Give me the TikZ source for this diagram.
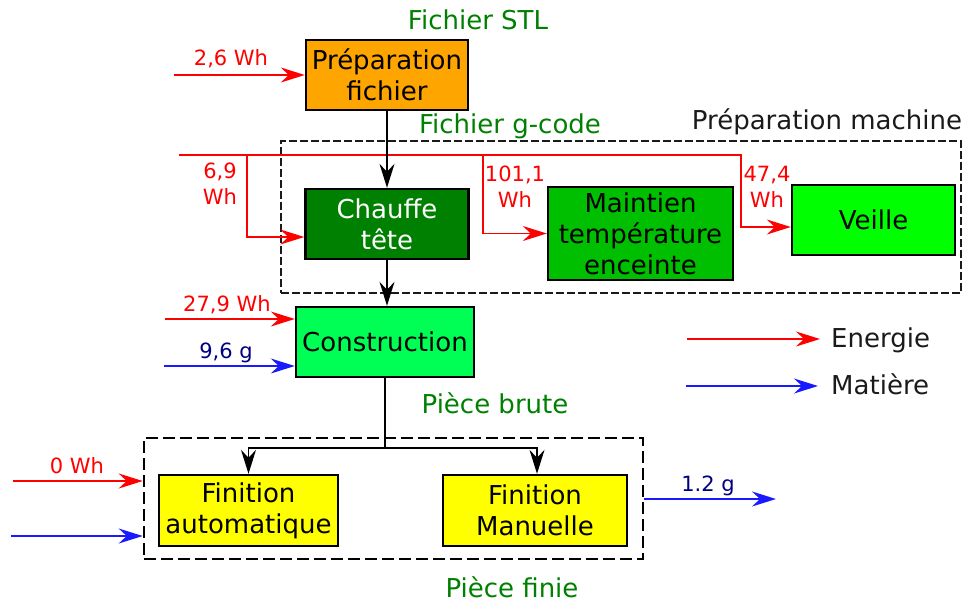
\documentclass[tikz,border=0pt]{standalone}
\usepackage{fontspec}
\setmainfont{DejaVu Sans}
\usetikzlibrary{positioning,arrows.meta,calc}
\usepackage{xcolor}
\definecolor{vertlbl}{HTML}{008000}
\definecolor{grisfonce}{HTML}{1A1A1A}
\definecolor{navy}{HTML}{000080}
\definecolor{orprep}{HTML}{FFA500}
\definecolor{vfonce}{HTML}{008000}
\definecolor{vmoyen}{HTML}{00BE00}
\definecolor{vclair}{HTML}{00FF00}
\definecolor{vconstr}{HTML}{00FF55}
\definecolor{jaune}{HTML}{FFFF00}
\definecolor{bleuflux}{HTML}{1A1AFF}

\begin{document}
\begin{tikzpicture}[
  x=1pt,y=-1pt,
  >={Stealth[length=24pt,width=15pt,inset=8pt]},
  every node/.style={inner sep=0pt},
  bloc/.style={draw,line width=2.4pt,align=center,font=\fontsize{26}{31}\selectfont},
  etat/.style={font=\fontsize{26}{31}\selectfont,text=vertlbl,anchor=base},
  flux/.style={font=\fontsize{21}{26}\selectfont,align=center},
  energie/.style={->,red,line width=1.5pt},
  matiere/.style={->,bleuflux,line width=2pt},
  lien/.style={->,black,line width=1.6pt}
]
\useasboundingbox (0,0) rectangle (965,603);

% zones en pointilles
\node[draw=grisfonce,line width=1.5pt,dash pattern=on 8pt off 3pt,minimum width=680pt,minimum height=152pt] (zprep) at (621,217) {};
\node[draw,line width=2.6pt,dash pattern=on 12pt off 5pt,minimum width=499pt,minimum height=121pt] (zfin) at (393.5,498.5) {};

% blocs
\node[bloc,fill=orprep,minimum width=162pt,minimum height=70pt] (prep) at (387,75) {Préparation\\fichier};
\node[bloc,fill=vfonce,text=white,minimum width=163pt,minimum height=70pt] (chauffe) at (387,224) {Chauffe\\tête};
\node[bloc,fill=vmoyen,minimum width=185pt,minimum height=93pt] (maintien) at (640.5,233.5) {Maintien\\température\\enceinte};
\node[bloc,fill=vclair,minimum width=163pt,minimum height=70pt] (veille) at (873.5,220) {Veille};
\node[bloc,fill=vconstr,minimum width=178pt,minimum height=70pt] (constr) at (385,342) {Construction};
\node[bloc,fill=jaune,minimum width=179pt,minimum height=71pt] (finauto) at (248.5,510.5) {Finition\\automatique};
\node[bloc,fill=jaune,minimum width=184pt,minimum height=71pt] (finman) at (535,510.5) {Finition\\Manuelle};

% etats du produit
\node[etat] (stl) at (478,29) {Fichier STL};
\node[etat] (gcode) at (510,133) {Fichier g-code};
\node[etat,text=grisfonce] (tprep) at (827,129) {Préparation machine};
\node[etat] (brute) at (495,413) {Pièce brute};
\node[etat] (finie) at (512,597) {Pièce finie};

% flux d'energie
\coordinate (e1) at (174,75);
\draw[energie] (e1) -- (prep);
\node[flux,text=red,anchor=base] (w1) at (231,65) {2,6 Wh};

\coordinate (e2) at (179,155);
\coordinate (b1) at (247,155);
\coordinate (b2) at (483,155);
\coordinate (b3) at (741,155);
\draw[energie] (e2) -- (b3) |- ([yshift=-7pt]veille.west);
\draw[energie] (b1) |- ([yshift=-13pt]chauffe.west);
\draw[energie] (b2) |- (maintien.west);
\node[flux,text=red,anchor=north] (w2) at (220,163) {6,9\\Wh};
\node[flux,text=red,anchor=north] (w3) at (515,166) {101,1\\Wh};
\node[flux,text=red,anchor=north] (w4) at (767,166) {47,4\\Wh};

\coordinate (e3) at (165,319);
\draw[energie] (e3) -- (e3 -| constr.west);
\node[flux,text=red,anchor=base] (w5) at (227,311) {27,9 Wh};

\coordinate (e4) at (13,481);
\draw[energie] (e4) -- (e4 -| zfin.west);
\node[flux,text=red,anchor=base] (w6) at (77,473) {0 Wh};

% flux de matiere
\coordinate (m1) at (164,366);
\draw[matiere] (m1) -- (m1 -| constr.west);
\node[flux,text=navy,anchor=base] (g1) at (226,358) {9,6 g};

\coordinate (m2) at (11,536);
\draw[matiere] (m2) -- (m2 -| zfin.west);

\coordinate (m3) at (776,499);
\draw[matiere] (m3 -| zfin.east) -- (m3);
\node[flux,text=navy,anchor=base] (g2) at (708,491) {1.2 g};

% enchainement
\draw[lien] (prep.south) -- (prep.south |- chauffe.north);
\draw[lien] (chauffe.south) -- (chauffe.south |- constr.north);
\coordinate (j) at ($(constr.south)+(0,70)$);
\draw[lien] (constr.south) -- (j) -| (finauto.north);
\draw[lien] (j) -| ([xshift=2pt]finman.north);

% legende
\node[font=\fontsize{26}{31}\selectfont,text=grisfonce,anchor=base west] (leg1) at (831,347) {Energie};
\node[font=\fontsize{26}{31}\selectfont,text=grisfonce,anchor=base west] (leg2) at (831,394) {Matière};
\coordinate (l1) at (687,339);
\coordinate (l2) at (686,386);
\draw[energie,shorten >=11pt] (l1) -- (l1 -| leg1.west);
\draw[matiere,shorten >=13pt] (l2) -- (l2 -| leg2.west);
\end{tikzpicture}
\end{document}
